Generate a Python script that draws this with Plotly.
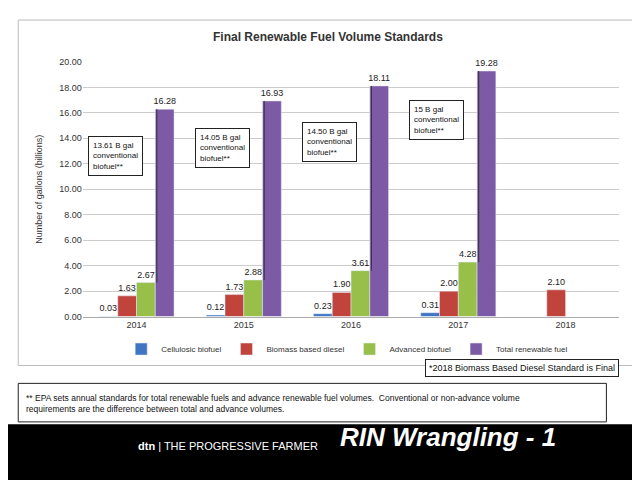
import plotly.graph_objects as go

years = ["2014", "2015", "2016", "2017", "2018"]
cellulosic = [0.03, 0.12, 0.23, 0.31, None]
biomass = [1.63, 1.73, 1.90, 2.00, 2.10]
advanced = [2.67, 2.88, 3.61, 4.28, None]
total = [16.28, 16.93, 18.11, 19.28, None]
conv_notes = ["13.61 B gal<br>conventional<br>biofuel**", "14.05 B gal<br>conventional<br>biofuel**",
              "14.50 B gal<br>conventional<br>biofuel**", "15 B gal<br>conventional<br>biofuel**"]
note_y = [12.6, 13.2, 13.7, 15.4]
yticks = [0, 2, 4, 6, 8, 10, 12, 14, 16, 18, 20]

xs = list(range(len(years)))
series = [("Cellulosic biofuel", cellulosic, "#3f75c2"),
          ("Biomass based diesel", biomass, "#c0433c"),
          ("Advanced biofuel", advanced, "#97bf4a"),
          ("Total renewable fuel", total, "#7d5aa6")]

fig = go.Figure()
for name, vals, color in series:
    fig.add_trace(go.Bar(
        x=xs, y=vals, name=name, marker_color=color,
        text=[f"{v:.2f}" if v is not None else "" for v in vals],
        textposition="outside", constraintext="none",
        textfont=dict(size=9, color="#222"), cliponaxis=False))

# conventional biofuel brackets and boxes
for i, (note, ny) in enumerate(zip(conv_notes, note_y)):
    fig.add_shape(type="line", x0=i + 0.19, x1=i + 0.19, y0=advanced[i], y1=total[i],
                  line=dict(color="#333", width=1))
    fig.add_annotation(x=i - 0.2, y=ny, text=note, showarrow=False, align="left",
                       font=dict(size=8, color="#111"), bordercolor="#222", borderwidth=1,
                       bgcolor="white", borderpad=4, xanchor="center")

# chart frame, footnote box, black footer band
fig.add_shape(type="rect", xref="paper", yref="paper", x0=0.016, x1=0.984, y0=0.25, y1=0.985,
              line=dict(color="#bbb", width=1), layer="below")
fig.add_shape(type="rect", xref="paper", yref="paper", x0=0.016, x1=0.935, y0=0.13, y1=0.212,
              line=dict(color="#222", width=1))
fig.add_shape(type="rect", xref="paper", yref="paper", x0=0, x1=1, y0=0, y1=0.125,
              fillcolor="black", line_width=0, layer="above")

fig.add_annotation(xref="paper", yref="paper", x=0.5, y=0.969, text="<b>Final Renewable Fuel Volume Standards</b>",
                   showarrow=False, font=dict(size=12, color="#333"))
fig.add_annotation(xref="paper", yref="paper", x=0.955, y=0.225, xanchor="right", yanchor="bottom",
                   text="*2018 Biomass Based Diesel Standard is Final", showarrow=False,
                   font=dict(size=9, color="#111"), bordercolor="#222", borderwidth=1, borderpad=3, bgcolor="white")
fig.add_annotation(xref="paper", yref="paper", x=0.025, y=0.17, yanchor="middle", xanchor="left", align="left",
                   text="** EPA sets annual standards for total renewable fuels and advance renewable fuel volumes.  Conventional or non-advance volume<br>requirements are the difference between total and advance volumes.",
                   showarrow=False, font=dict(size=8.5, color="#111"))
fig.add_annotation(xref="paper", yref="paper", x=0.2, y=0.0625, text="<b>dtn</b> | THE PROGRESSIVE FARMER",
                   showarrow=False, font=dict(size=11, color="white"))
fig.add_annotation(xref="paper", yref="paper", x=0.86, y=0.0625, text="<b><i>RIN Wrangling - 1</i></b>",
                   showarrow=False, font=dict(size=26, color="white", family="Liberation Sans"))

fig.update_layout(
    width=640, height=480, margin=dict(l=0, r=0, t=0, b=0),
    paper_bgcolor="white", plot_bgcolor="white", barmode="group", bargap=0.3,
    font=dict(family="Liberation Sans", color="#333"),
    legend=dict(orientation="h", x=0.53, xanchor="center", y=0.285, yanchor="middle",
                font=dict(size=8), itemwidth=30),
    xaxis=dict(domain=[0.117, 0.955], tickvals=xs, ticktext=years, tickfont=dict(size=9),
               range=[-0.5, 4.5], showline=True, linecolor="#aaa"),
    yaxis=dict(domain=[0.354, 0.896], range=[0, 20], tickvals=yticks,
               ticktext=[f"{v:.2f}" for v in yticks], tickfont=dict(size=9),
               gridcolor="#ccc", title=dict(text="Number of gallons (billions)", font=dict(size=9))),
)

fig.write_html("out.html")
